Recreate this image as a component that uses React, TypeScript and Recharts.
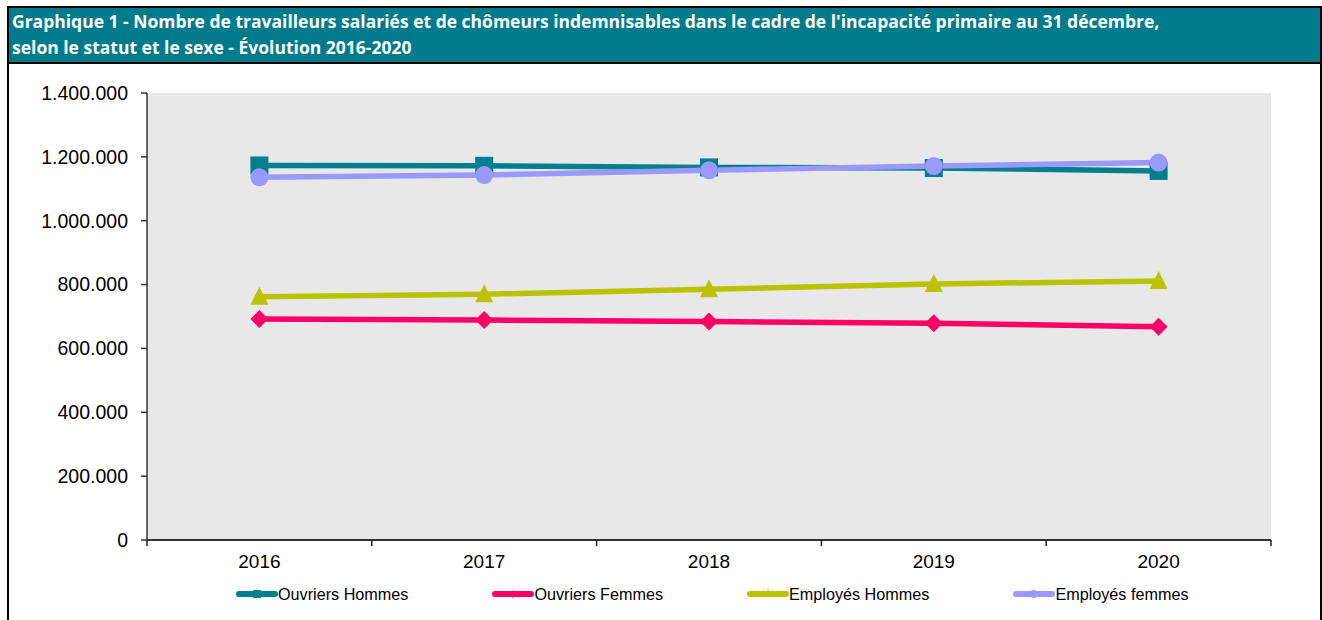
import React from "react";
import { LineChart, Line, XAxis, YAxis, CartesianGrid } from "recharts";

const years = ["2016", "2017", "2018", "2019", "2020"];
const ouvriersHommes = [1173000, 1172000, 1167000, 1165000, 1156000];
const ouvriersFemmes = [692000, 689000, 684000, 679000, 668000];
const employesHommes = [762000, 770000, 785000, 802000, 811000];
const employesFemmes = [1136000, 1143000, 1158000, 1171000, 1182000];
const yTicks = [0, 200000, 400000, 600000, 800000, 1000000, 1200000, 1400000];

const titleLine1 =
  "Graphique 1 - Nombre de travailleurs salariés et de chômeurs indemnisables dans le cadre de l'incapacité primaire au 31 décembre,";
const titleLine2 = "selon le statut et le sexe - Évolution 2016-2020";

const data = years.map((y, i) => ({
  year: y,
  oh: ouvriersHommes[i],
  of: ouvriersFemmes[i],
  eh: employesHommes[i],
  ef: employesFemmes[i],
}));

const series = [
  { key: "oh", name: "Ouvriers Hommes", color: "#007F8E", shape: "square" },
  { key: "of", name: "Ouvriers Femmes", color: "#FF0066", shape: "diamond" },
  { key: "eh", name: "Employés Hommes", color: "#BBC300", shape: "triangle" },
  { key: "ef", name: "Employés femmes", color: "#9999FF", shape: "circle" },
];

const FONT = "'Liberation Sans', Arial, sans-serif";

const fmt = (v: number) => String(v).replace(/\B(?=(\d{3})+(?!\d))/g, ".");

function Marker({ cx, cy, shape, color, size }: any) {
  if (cx == null || cy == null) return null;
  const h = size / 2;
  if (shape === "square")
    return <rect x={cx - h} y={cy - h} width={size} height={size} fill={color} />;
  if (shape === "circle") return <circle cx={cx} cy={cy} r={h} fill={color} />;
  if (shape === "diamond")
    return (
      <polygon
        points={`${cx},${cy - h} ${cx + h},${cy} ${cx},${cy + h} ${cx - h},${cy}`}
        fill={color}
      />
    );
  return (
    <polygon
      points={`${cx},${cy - h - 1} ${cx + h},${cy + h - 1} ${cx - h},${cy + h - 1}`}
      fill={color}
    />
  );
}

function XTick(props: any) {
  const { x, y, payload, index } = props;
  const off = payload && payload.offset ? payload.offset : 0;
  const last = index === years.length - 1;
  return (
    <g>
      <line x1={x - off} x2={x - off} y1={y} y2={y + 6} stroke="#222" strokeWidth={1.5} />
      {last && <line x1={x + off} x2={x + off} y1={y} y2={y + 6} stroke="#222" strokeWidth={1.5} />}
      <text x={x} y={y + 28} textAnchor="middle" fontSize={19} fill="#000" fontFamily={FONT}>
        {payload.value}
      </text>
    </g>
  );
}

function LegendIcon({ color, shape }: any) {
  return (
    <svg width={42} height={12} style={{ display: "block" }}>
      <line x1={3} x2={39} y1={6} y2={6} stroke={color} strokeWidth={6} strokeLinecap="round" />
      <Marker cx={21} cy={6} shape={shape} color={color} size={8} />
    </svg>
  );
}

export default function App() {
  return (
    <div style={{ position: "absolute", left: 0, top: 0, width: 1322, height: 620, background: "#fff", overflow: "hidden" }}>
      <div
        style={{
          position: "absolute",
          left: 7,
          top: 6,
          width: 1311,
          height: 700,
          borderLeft: "2px solid #000",
          borderRight: "2px solid #000",
          borderTop: "2px solid #000",
        }}
      />
      <div
        style={{
          position: "absolute",
          left: 9,
          top: 8,
          width: 1311,
          height: 56,
          background: "#007B8C",
          borderBottom: "2px solid #000",
          color: "#fff",
          fontFamily: "'Open Sans', sans-serif",
          fontWeight: 700,
          fontSize: 17.5,
          lineHeight: "26px",
          paddingLeft: 3,
          paddingTop: 0,
          boxSizing: "border-box",
          whiteSpace: "nowrap",
        }}
      >
        <div>{titleLine1}</div>
        <div>{titleLine2}</div>
      </div>
      <div style={{ position: "absolute", left: 0, top: 0 }}>
        <LineChart
          width={1322}
          height={620}
          data={data}
          margin={{ top: 93, right: 51, bottom: 0, left: 0 }}
          style={{ fontFamily: FONT }}
        >
          <CartesianGrid fill="#E8E8E8" horizontal={false} vertical={false} />
          <XAxis
            xAxisId="top"
            orientation="top"
            dataKey="year"
            height={0}
            tick={false}
            tickLine={false}
            axisLine={{ stroke: "#8C8C8C", strokeWidth: 2 }}
          />
          <YAxis
            yAxisId="right"
            orientation="right"
            width={0}
            tick={false}
            tickLine={false}
            domain={[0, 1400000]}
            axisLine={{ stroke: "#8C8C8C", strokeWidth: 2 }}
          />
          <XAxis
            dataKey="year"
            scale="band"
            height={80}
            tickSize={0}
            tickMargin={0}
            tickLine={false}
            axisLine={{ stroke: "#333", strokeWidth: 2 }}
            tick={<XTick />}
            interval={0}
          />
          <YAxis
            width={147}
            domain={[0, 1400000]}
            ticks={yTicks}
            tickFormatter={fmt}
            tickSize={6}
            tickMargin={13}
            interval={0}
            axisLine={{ stroke: "#333", strokeWidth: 1.5 }}
            tickLine={{ stroke: "#333", strokeWidth: 1.5 }}
            tick={{ fill: "#000", fontSize: 19.5, fontFamily: FONT }}
          />
          {series.map((s) => (
            <Line
              key={s.key}
              dataKey={s.key}
              name={s.name}
              stroke={s.color}
              strokeWidth={5.5}
              isAnimationActive={false}
              dot={(p: any) => (
                <Marker key={`${s.key}-${p.index}`} cx={p.cx} cy={p.cy} shape={s.shape} color={s.color} size={18} />
              )}
              activeDot={false}
            />
          ))}
        </LineChart>
      </div>
      <div
        style={{
          position: "absolute",
          left: 236,
          top: 585,
          display: "flex",
          gap: 84,
          fontFamily: FONT,
          fontSize: 16.2,
          color: "#000",
          alignItems: "center",
          whiteSpace: "nowrap",
        }}
      >
        {series.map((s) => (
          <div key={s.key} style={{ display: "flex", alignItems: "center", height: 18 }}>
            <LegendIcon color={s.color} shape={s.shape} />
            <span>{s.name}</span>
          </div>
        ))}
      </div>
    </div>
  );
}
